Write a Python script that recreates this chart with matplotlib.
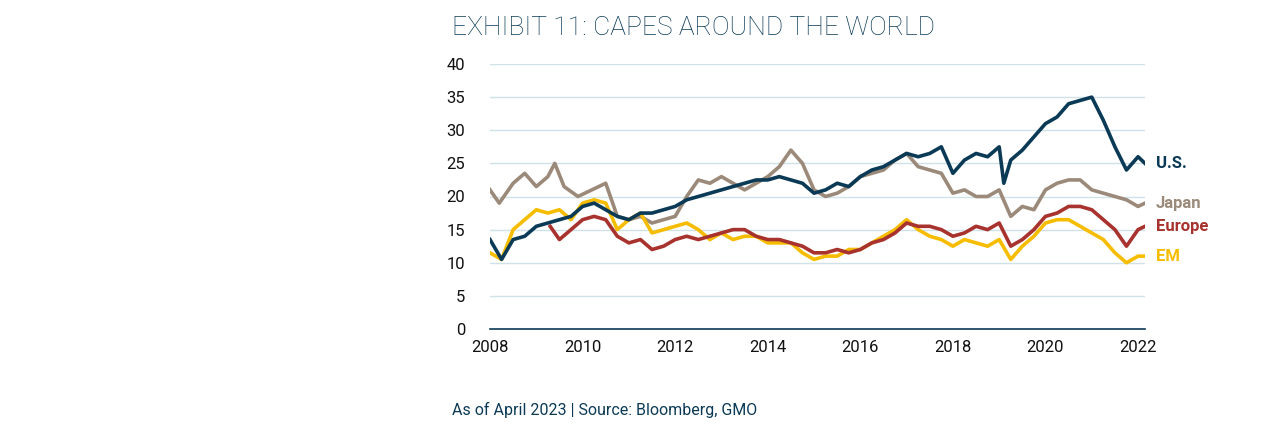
import matplotlib
matplotlib.use("Agg")
import matplotlib.pyplot as plt
import numpy as np

plt.rcParams['font.family'] = ['Roboto', 'DejaVu Sans']

us_x = [2008.0,2008.25,2008.5,2008.75,2009.0,2009.25,2009.5,2009.75,2010.0,2010.25,2010.5,2010.75,2011.0,2011.25,2011.5,2011.75,2012.0,2012.25,2012.5,2012.75,2013.0,2013.25,2013.5,2013.75,2014.0,2014.25,2014.5,2014.75,2015.0,2015.25,2015.5,2015.75,2016.0,2016.25,2016.5,2016.75,2017.0,2017.25,2017.5,2017.75,2018.0,2018.25,2018.5,2018.75,2019.0,2019.1,2019.25,2019.5,2019.75,2020.0,2020.25,2020.5,2020.75,2021.0,2021.25,2021.5,2021.75,2022.0,2022.15]
us = [13.5,10.5,13.5,14,15.5,16,16.5,17,18.5,19,18,17,16.5,17.5,17.5,18,18.5,19.5,20,20.5,21,21.5,22,22.5,22.5,23,22.5,22,20.5,21,22,21.5,23,24,24.5,25.5,26.5,26,26.5,27.5,23.5,25.5,26.5,26,27.5,22,25.5,27,29,31,32,34,34.5,35,31.5,27.5,24,26,25]

jp_x = [2008.0,2008.2,2008.5,2008.75,2009.0,2009.25,2009.4,2009.6,2009.9,2010.2,2010.5,2010.75,2011.0,2011.25,2011.5,2011.75,2012.0,2012.25,2012.5,2012.75,2013.0,2013.25,2013.5,2013.75,2014.0,2014.25,2014.5,2014.75,2015.0,2015.25,2015.5,2015.75,2016.0,2016.25,2016.5,2016.75,2017.0,2017.25,2017.5,2017.75,2018.0,2018.25,2018.5,2018.75,2019.0,2019.25,2019.5,2019.75,2020.0,2020.25,2020.5,2020.75,2021.0,2021.25,2021.5,2021.75,2022.0,2022.15]
japan = [21,19,22,23.5,21.5,23,25,21.5,20,21,22,17,16.5,17,16,16.5,17,20,22.5,22,23,22,21,22,23,24.5,27,25,21,20,20.5,21.5,23,23.5,24,25.5,26.5,24.5,24,23.5,20.5,21,20,20,21,17,18.5,18,21,22,22.5,22.5,21,20.5,20,19.5,18.5,19]

eu_x = [2009.3,2009.5,2009.75,2010.0,2010.25,2010.5,2010.75,2011.0,2011.25,2011.5,2011.75,2012.0,2012.25,2012.5,2012.75,2013.0,2013.25,2013.5,2013.75,2014.0,2014.25,2014.5,2014.75,2015.0,2015.25,2015.5,2015.75,2016.0,2016.25,2016.5,2016.75,2017.0,2017.25,2017.5,2017.75,2018.0,2018.25,2018.5,2018.75,2019.0,2019.25,2019.5,2019.75,2020.0,2020.25,2020.5,2020.75,2021.0,2021.25,2021.5,2021.75,2022.0,2022.15]
europe = [15.5,13.5,15,16.5,17,16.5,14,13,13.5,12,12.5,13.5,14,13.5,14,14.5,15,15,14,13.5,13.5,13,12.5,11.5,11.5,12,11.5,12,13,13.5,14.5,16,15.5,15.5,15,14,14.5,15.5,15,16,12.5,13.5,15,17,17.5,18.5,18.5,18,16.5,15,12.5,15,15.5]

em_x = [2008.0,2008.25,2008.5,2008.75,2009.0,2009.25,2009.5,2009.75,2010.0,2010.25,2010.5,2010.75,2011.0,2011.25,2011.5,2011.75,2012.0,2012.25,2012.5,2012.75,2013.0,2013.25,2013.5,2013.75,2014.0,2014.25,2014.5,2014.75,2015.0,2015.25,2015.5,2015.75,2016.0,2016.25,2016.5,2016.75,2017.0,2017.25,2017.5,2017.75,2018.0,2018.25,2018.5,2018.75,2019.0,2019.25,2019.5,2019.75,2020.0,2020.25,2020.5,2020.75,2021.0,2021.25,2021.5,2021.75,2022.0,2022.15]
em = [11.5,10.5,15,16.5,18,17.5,18,16.5,19,19.5,19,15,16.5,17.5,14.5,15,15.5,16,15,13.5,14.5,13.5,14,14,13,13,13,11.5,10.5,11,11,12,12,13,14,15,16.5,15,14,13.5,12.5,13.5,13,12.5,13.5,10.5,12.5,14,16,16.5,16.5,15.5,14.5,13.5,11.5,10,11,11]

c_us, c_jp, c_eu, c_em = '#0b3a56', '#9b8a79', '#a8322d', '#f6bd00'

fig = plt.figure(figsize=(12.75, 4.34), dpi=100)
ax = fig.add_axes([490/1275, 1-329/434, (1145-490)/1275, (329-64)/434])
for x, y, c in [(jp_x, japan, c_jp), (em_x, em, c_em), (eu_x, europe, c_eu), (us_x, us, c_us)]:
    ax.plot(x, y, color=c, lw=2.6, solid_joinstyle='round')

ax.set_xlim(2008, 2022.15)
ax.set_ylim(0, 40)
ax.set_yticks(range(0, 41, 5))
ax.set_xticks(range(2008, 2023, 2))
ax.grid(axis='y', color='#cfe2ea', lw=1)
ax.set_axisbelow(True)
for s in ['top', 'right', 'left']:
    ax.spines[s].set_visible(False)
ax.spines['bottom'].set_color('#0b3a56')
ax.spines['bottom'].set_linewidth(1.2)
ax.tick_params(axis='both', length=0, labelsize=12, colors='#111111', pad=8)
ax.tick_params(axis='y', pad=18)

labels = [('U.S.', us[-1], c_us), ('Japan', japan[-1], c_jp), ('Europe', europe[-1], c_eu), ('EM', em[-1], c_em)]
for t, v, c in labels:
    ax.annotate(t, xy=(1, v), xycoords=('axes fraction', 'data'), xytext=(8, 0),
                textcoords='offset points', va='center', ha='left', color=c,
                fontsize=12, fontweight='bold')

fig.text(452/1275, 1-28/434, 'EXHIBIT 11: CAPES AROUND THE WORLD', fontsize=19,
         color='#0b3a56', va='center', ha='left', fontweight='light')
fig.text(452/1275, 1-410/434, 'As of April 2023 | Source: Bloomberg, GMO', fontsize=11.5,
         color='#0b3a56', va='center', ha='left')
fig.savefig('out.png', dpi=100)
